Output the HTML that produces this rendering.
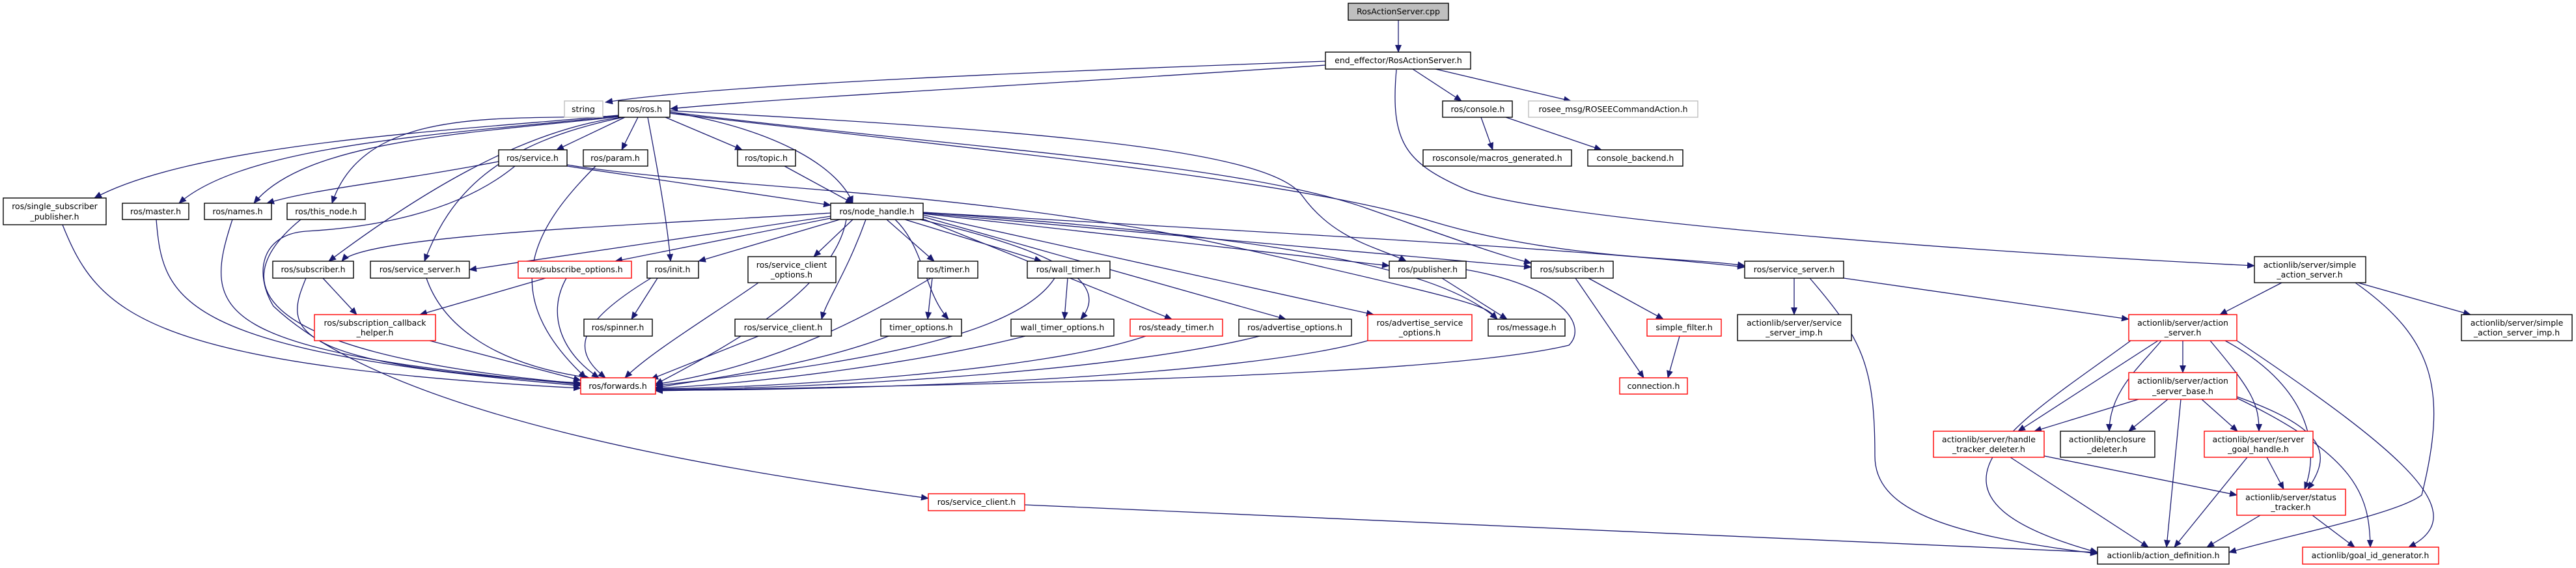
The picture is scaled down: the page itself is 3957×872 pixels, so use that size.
<!DOCTYPE html>
<html><head><meta charset="utf-8"><style>
html,body{margin:0;padding:0;background:#fff}
svg{display:block}
text{font-family:"DejaVu Sans","Liberation Sans",sans-serif;font-size:12.5px;fill:#000;text-anchor:middle}
.e{fill:none;stroke:#191970;stroke-width:1.3}
.b{fill:#fff;stroke:#000;stroke-width:1.4}
.r{fill:#fff;stroke:#ff0000;stroke-width:1.4}
.g{fill:#fff;stroke:#bfbfbf;stroke-width:1.4}
</style></head><body>
<svg width="3957" height="872" viewBox="0 0 3957 872" xmlns="http://www.w3.org/2000/svg">
<defs><marker id="a" markerWidth="12" markerHeight="10" refX="11" refY="5" orient="auto" markerUnits="userSpaceOnUse"><path d="M0,0 L12,5 L0,10 z" fill="#191970"/></marker></defs>
<g class="e" marker-end="url(#a)">
<path d="M2148,31 L2148,80"/>
<path d="M2036,94 C1600,110 1100,130 930,157"/>
<path d="M2036,100 C1600,130 1200,150 1030,167"/>
<path d="M2170,106 L2245,155"/>
<path d="M2205,106 L2413,155"/>
<path d="M2145,107 C2135,220 2160,250 2250,290 S2900,380 3463,408"/>
<path d="M2275,180 L2293,230"/>
<path d="M2313,180 L2460,230"/>
<path d="M950,177 C700,200 300,220 145,304"/>
<path d="M950,178 C700,205 380,220 275,312"/>
<path d="M952,179 C720,205 470,215 390,312"/>
<path d="M950,178 C780,185 560,160 510,312"/>
<path d="M960,180 L855,230"/>
<path d="M980,180 L955,230"/>
<path d="M1022,180 L1140,230"/>
<path d="M995,180 C1010,260 1025,340 1030,401"/>
<path d="M955,180 C800,200 640,300 505,401"/>
<path d="M958,180 C760,220 690,300 652,401"/>
<path d="M1029,172 C1200,200 1290,260 1310,312"/>
<path d="M1029,170 C1600,200 1950,230 2000,300 S2120,380 2160,401"/>
<path d="M1029,172 C1500,230 1900,250 2100,320 S2300,390 2352,404"/>
<path d="M1029,174 C1600,240 2000,280 2200,340 S2600,395 2680,408"/>
<path d="M766,248 C600,280 480,290 410,312"/>
<path d="M871,255 L1276,315"/>
<path d="M871,253 C1100,290 1500,290 1900,380 S2280,470 2300,490"/>
<path d="M791,255 C700,330 560,350 470,355 C400,360 390,420 420,470 C600,640 1100,720 1426,765"/>
<path d="M915,255 C820,350 760,450 900,580"/>
<path d="M1205,255 L1310,312"/>
<path d="M96,345 C150,480 220,560 892,596"/>
<path d="M240,337 C250,460 270,540 892,592"/>
<path d="M357,337 C310,480 320,540 892,590"/>
<path d="M462,337 C360,420 340,540 892,589"/>
<path d="M470,427 C440,500 420,560 892,588"/>
<path d="M496,427 L548,483"/>
<path d="M655,427 C680,500 760,560 905,580"/>
<path d="M838,427 L645,483"/>
<path d="M870,427 C840,480 860,540 920,580"/>
<path d="M1010,427 L970,490"/>
<path d="M1000,427 C880,500 880,540 930,580"/>
<path d="M1165,434 C1100,480 1000,540 960,580"/>
<path d="M660,523 L892,584"/>
<path d="M1165,516 L1000,582"/>
<path d="M1432,427 L1425,490"/>
<path d="M1430,427 C1340,480 1200,560 1007,590"/>
<path d="M1640,427 L1635,490"/>
<path d="M1620,427 C1560,520 1300,560 1007,592"/>
<path d="M1365,516 C1250,560 1100,580 1007,595"/>
<path d="M1575,516 C1400,560 1150,590 1007,596"/>
<path d="M1760,516 C1600,570 1200,595 1007,597"/>
<path d="M1935,516 C1700,575 1200,598 1007,598"/>
<path d="M2101,523 C1900,580 1300,600 1007,599"/>
<path d="M2252,414 C2400,440 2440,500 2410,530 C2200,580 1500,590 1007,600"/>
<path d="M2215,427 L2315,490"/>
<path d="M2440,427 L2555,490"/>
<path d="M2420,427 L2525,580"/>
<path d="M2580,516 L2562,580"/>
<path d="M2756,427 L2756,483"/>
<path d="M2780,427 C2860,520 2880,560 2880,700 C2880,780 2980,820 3222,850"/>
<path d="M2832,427 L3270,490"/>
<path d="M3505,434 L3410,483"/>
<path d="M3618,434 C3740,520 3760,600 3720,760 C3680,790 3520,820 3424,848"/>
<path d="M3622,434 L3795,483"/>
<path d="M3353,523 L3353,572"/>
<path d="M3315,523 L3100,662"/>
<path d="M3320,523 C3290,560 3240,600 3240,662"/>
<path d="M3395,523 C3460,600 3470,620 3470,662"/>
<path d="M3418,523 C3560,600 3560,700 3540,751"/>
<path d="M3273,523 C3100,650 2900,760 3222,848"/>
<path d="M3436,523 C3700,700 3800,790 3700,840"/>
<path d="M3285,613 L3125,662"/>
<path d="M3330,613 L3270,662"/>
<path d="M3382,613 L3437,662"/>
<path d="M3436,609 C3580,660 3580,700 3545,751"/>
<path d="M3350,613 L3328,840"/>
<path d="M3436,611 C3620,700 3640,760 3641,840"/>
<path d="M3140,700 L3436,760"/>
<path d="M3088,702 L3300,840"/>
<path d="M3482,702 L3508,751"/>
<path d="M3452,702 L3340,840"/>
<path d="M3472,791 L3390,840"/>
<path d="M3552,791 L3617,840"/>
<path d="M1574,775 L3222,848"/>
<path d="M1276,327 C1000,345 560,360 525,401"/>
<path d="M1300,337 C1280,450 1100,540 1007,590"/>
<path d="M1276,332 L721,414"/>
<path d="M1276,335 L945,401"/>
<path d="M1290,337 L1073,401"/>
<path d="M1310,337 L1250,394"/>
<path d="M1330,337 C1300,420 1270,460 1262,490"/>
<path d="M1362,337 L1435,401"/>
<path d="M1390,337 L1600,401"/>
<path d="M1375,337 C1420,380 1420,450 1457,490"/>
<path d="M1400,334 C1560,370 1720,420 1660,490"/>
<path d="M1410,333 L1800,490"/>
<path d="M1415,332 L1975,490"/>
<path d="M1418,330 L2110,483"/>
<path d="M1418,328 L2134,408"/>
<path d="M1418,327 L2352,410"/>
<path d="M1418,326 C1900,360 2200,400 2300,490"/>
<path d="M1418,326 C2000,360 2400,380 2680,410"/>
</g>
<g>
<rect x="2071" y="5" width="154" height="26" fill="#bfbfbf" stroke="#000" stroke-width="1.4"/><text x="2148" y="22">RosActionServer.cpp</text>
<rect class="b" x="2036" y="80" width="223" height="26"/><text x="2148" y="97">end_effector/RosActionServer.h</text>
<rect class="g" x="867" y="155" width="59" height="25"/><text x="896" y="172">string</text>
<rect class="b" x="950" y="155" width="79" height="25"/><text x="990" y="172">ros/ros.h</text>
<rect class="b" x="2216" y="155" width="107" height="25"/><text x="2270" y="172">ros/console.h</text>
<rect class="g" x="2348" y="155" width="260" height="25"/><text x="2478" y="172">rosee_msg/ROSEECommandAction.h</text>
<rect class="b" x="766" y="230" width="105" height="25"/><text x="818" y="247">ros/service.h</text>
<rect class="b" x="896" y="230" width="99" height="25"/><text x="945" y="247">ros/param.h</text>
<rect class="b" x="1133" y="230" width="89" height="25"/><text x="1177" y="247">ros/topic.h</text>
<rect class="b" x="2186" y="230" width="228" height="25"/><text x="2300" y="247">rosconsole/macros_generated.h</text>
<rect class="b" x="2439" y="230" width="146" height="25"/><text x="2512" y="247">console_backend.h</text>
<rect class="b" x="5" y="304" width="158" height="41"/><text x="84" y="321">ros/single_subscriber</text><text x="84" y="337">_publisher.h</text>
<rect class="b" x="188" y="312" width="102" height="25"/><text x="239" y="329">ros/master.h</text>
<rect class="b" x="314" y="312" width="103" height="25"/><text x="365" y="329">ros/names.h</text>
<rect class="b" x="441" y="312" width="120" height="25"/><text x="501" y="329">ros/this_node.h</text>
<rect class="b" x="1276" y="312" width="142" height="25"/><text x="1347" y="329">ros/node_handle.h</text>
<rect class="b" x="419" y="401" width="124" height="26"/><text x="481" y="418">ros/subscriber.h</text>
<rect class="b" x="569" y="401" width="152" height="26"/><text x="645" y="418">ros/service_server.h</text>
<rect class="r" x="796" y="401" width="174" height="26"/><text x="883" y="418">ros/subscribe_options.h</text>
<rect class="b" x="994" y="401" width="79" height="26"/><text x="1033" y="418">ros/init.h</text>
<rect class="b" x="1149" y="394" width="135" height="40"/><text x="1216" y="411">ros/service_client</text><text x="1216" y="426">_options.h</text>
<rect class="b" x="1410" y="401" width="92" height="26"/><text x="1456" y="418">ros/timer.h</text>
<rect class="b" x="1578" y="401" width="127" height="26"/><text x="1641" y="418">ros/wall_timer.h</text>
<rect class="b" x="2134" y="401" width="118" height="26"/><text x="2193" y="418">ros/publisher.h</text>
<rect class="b" x="2352" y="401" width="126" height="26"/><text x="2415" y="418">ros/subscriber.h</text>
<rect class="b" x="2680" y="401" width="152" height="26"/><text x="2756" y="418">ros/service_server.h</text>
<rect class="b" x="3463" y="394" width="171" height="40"/><text x="3548" y="411">actionlib/server/simple</text><text x="3548" y="426">_action_server.h</text>
<rect class="r" x="483" y="483" width="186" height="40"/><text x="576" y="500">ros/subscription_callback</text><text x="576" y="515">_helper.h</text>
<rect class="b" x="897" y="490" width="105" height="26"/><text x="949" y="507">ros/spinner.h</text>
<rect class="b" x="1129" y="490" width="148" height="26"/><text x="1203" y="507">ros/service_client.h</text>
<rect class="b" x="1353" y="490" width="124" height="26"/><text x="1415" y="507">timer_options.h</text>
<rect class="b" x="1553" y="490" width="158" height="26"/><text x="1632" y="507">wall_timer_options.h</text>
<rect class="r" x="1736" y="490" width="142" height="26"/><text x="1807" y="507">ros/steady_timer.h</text>
<rect class="b" x="1903" y="490" width="173" height="26"/><text x="1989" y="507">ros/advertise_options.h</text>
<rect class="r" x="2101" y="483" width="160" height="40"/><text x="2181" y="500">ros/advertise_service</text><text x="2181" y="515">_options.h</text>
<rect class="b" x="2286" y="490" width="118" height="26"/><text x="2345" y="507">ros/message.h</text>
<rect class="r" x="2530" y="490" width="114" height="26"/><text x="2587" y="507">simple_filter.h</text>
<rect class="b" x="2669" y="483" width="175" height="40"/><text x="2756" y="500">actionlib/server/service</text><text x="2756" y="515">_server_imp.h</text>
<rect class="r" x="3270" y="483" width="166" height="40"/><text x="3353" y="500">actionlib/server/action</text><text x="3353" y="515">_server.h</text>
<rect class="b" x="3781" y="483" width="170" height="40"/><text x="3866" y="500">actionlib/server/simple</text><text x="3866" y="515">_action_server_imp.h</text>
<rect class="r" x="892" y="580" width="115" height="25"/><text x="949" y="597">ros/forwards.h</text>
<rect class="r" x="2488" y="580" width="104" height="25"/><text x="2540" y="597">connection.h</text>
<rect class="r" x="3270" y="572" width="166" height="41"/><text x="3353" y="589">actionlib/server/action</text><text x="3353" y="605">_server_base.h</text>
<rect class="r" x="2970" y="662" width="170" height="40"/><text x="3055" y="679">actionlib/server/handle</text><text x="3055" y="694">_tracker_deleter.h</text>
<rect class="b" x="3165" y="662" width="145" height="40"/><text x="3237" y="679">actionlib/enclosure</text><text x="3237" y="694">_deleter.h</text>
<rect class="r" x="3386" y="662" width="167" height="40"/><text x="3469" y="679">actionlib/server/server</text><text x="3469" y="694">_goal_handle.h</text>
<rect class="r" x="1426" y="758" width="148" height="26"/><text x="1500" y="775">ros/service_client.h</text>
<rect class="r" x="3436" y="751" width="167" height="40"/><text x="3519" y="768">actionlib/server/status</text><text x="3519" y="783">_tracker.h</text>
<rect class="b" x="3222" y="840" width="202" height="26"/><text x="3323" y="857">actionlib/action_definition.h</text>
<rect class="r" x="3537" y="840" width="209" height="26"/><text x="3641" y="857">actionlib/goal_id_generator.h</text>
</g>
</svg>
</body></html>
